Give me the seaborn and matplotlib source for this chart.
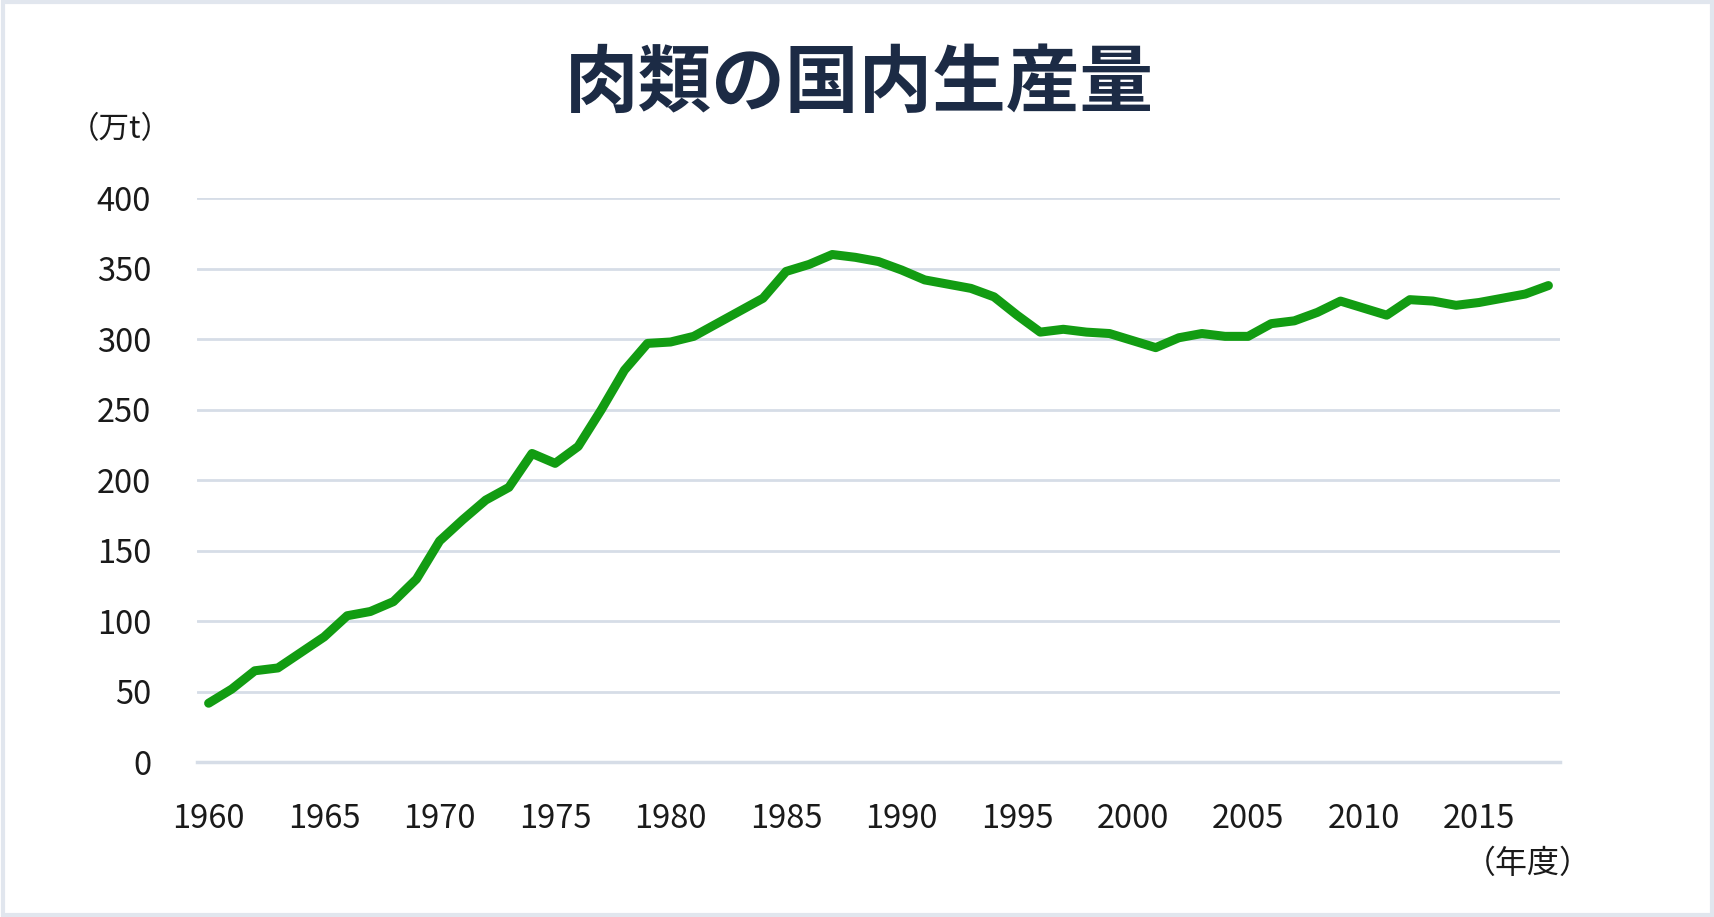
import numpy as np
import pandas as pd
import matplotlib
matplotlib.use("Agg")
import matplotlib.pyplot as plt
import seaborn as sns

# data (万t)
years = list(range(1960, 2019))
production = [
    42, 52, 65, 67, 78, 89, 104, 107, 114, 130,
    157, 172, 186, 195, 219, 212, 224, 250, 278, 297,
    298, 302, 311, 320, 329, 348, 353, 360, 358, 355,
    349, 342, 339, 336, 330, 317, 305, 307, 305, 304,
    299, 294, 301, 304, 302, 302, 311, 313, 319, 327,
    322, 317, 328, 327, 324, 326, 329, 332, 338,
]
label_years = list(range(1960, 2016, 5))
y_ticks = list(range(0, 401, 50))

title = "肉類の国内生産量"
unit_label = "（万t）"
year_label = "（年度）"

sns.set_style("white")
plt.rcParams["font.family"] = ["Noto Sans CJK JP", "DejaVu Sans"]

df = pd.DataFrame({"year": years, "production": production})

GRID = "#d6dde7"
LINE = "#129c12"
TEXT = "#1a1a1a"

fig = plt.figure(figsize=(17.15, 9.17), dpi=100)
fig.patch.set_facecolor("white")
ax = fig.add_axes([0.1149, 0.1685, 0.7947, 0.6155])

sns.lineplot(data=df, x="year", y="production", ax=ax, color=LINE,
             linewidth=6.5, solid_capstyle="round", solid_joinstyle="round")

ax.set_xlim(years[0] - 0.5, years[-1] + 0.5)
ax.set_ylim(0, 400)
ax.set_yticks(y_ticks)
ax.set_yticklabels([str(v) for v in y_ticks])
ax.yaxis.grid(True, color=GRID, linewidth=2)
ax.set_axisbelow(True)

# tick marks between categories, labels on the years
ax.set_xticks(np.arange(years[0] - 0.5, years[-1] + 1.0, 1.0))
ax.set_xticklabels([])
ax.tick_params(axis="x", which="major", length=11, width=1.5, color=GRID,
               direction="out")
ax.set_xticks(label_years, minor=True)
ax.set_xticklabels([str(y) for y in label_years], minor=True)
ax.tick_params(axis="x", which="minor", length=0, pad=29,
               labelsize=23.5, labelcolor=TEXT)
ax.tick_params(axis="y", length=0, pad=33, labelsize=23.5, labelcolor=TEXT)

for side in ["top", "right", "left"]:
    ax.spines[side].set_visible(False)
ax.spines["bottom"].set_color(GRID)
ax.spines["bottom"].set_linewidth(2.5)

ax.set_xlabel("")
ax.set_ylabel("")

fig.text(0.501, 0.908, title, ha="center", va="center", fontsize=53,
         fontweight="bold", color="#1c2b45")
fig.text(0.070, 0.859, unit_label, ha="center", va="center", fontsize=22,
         color=TEXT)
fig.text(0.891, 0.058, year_label, ha="center", va="center", fontsize=23,
         color=TEXT)

# light frame around the picture
frame = plt.Rectangle((0.0015, 0.0025), 0.997, 0.995, transform=fig.transFigure,
                      fill=False, edgecolor="#e1e6ee", linewidth=3)
fig.patches.append(frame)

fig.savefig("out.png", dpi=100, facecolor="white")
